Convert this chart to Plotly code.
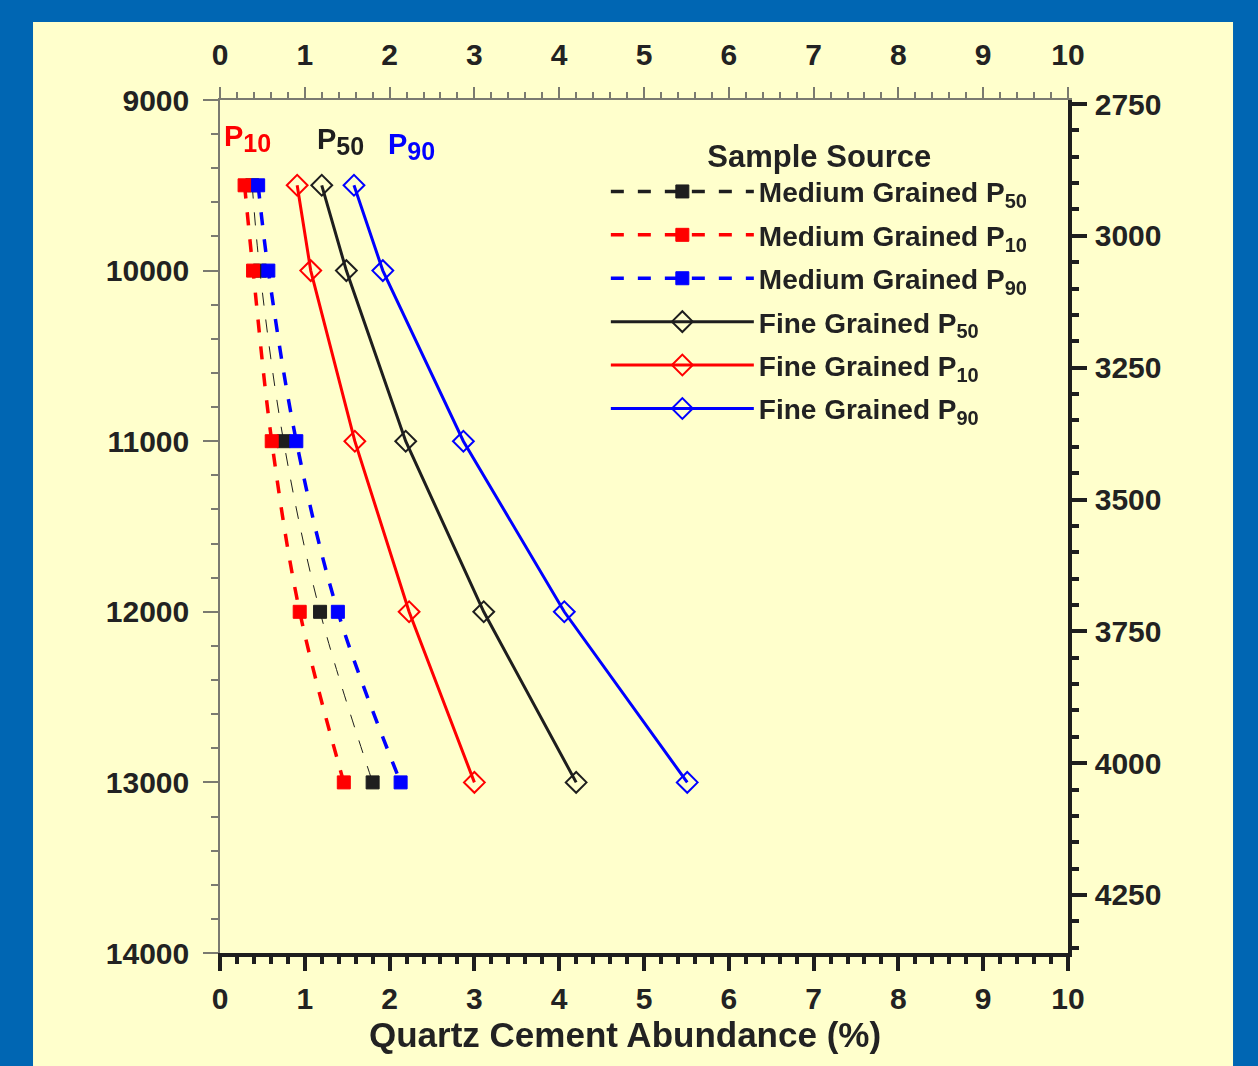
import plotly.graph_objects as go

# ---------------- data ----------------
depth_ft = [9500, 10000, 11000, 12000, 13000]

medium_p50 = [0.38, 0.47, 0.75, 1.18, 1.80]
medium_p10 = [0.29, 0.39, 0.61, 0.94, 1.46]
medium_p90 = [0.45, 0.57, 0.90, 1.39, 2.13]

fine_p50 = [1.20, 1.49, 2.19, 3.11, 4.20]
fine_p10 = [0.91, 1.07, 1.59, 2.23, 3.00]
fine_p90 = [1.58, 1.92, 2.87, 4.06, 5.51]

x_ticks = list(range(0, 11))
depth_ticks_ft = [9000, 10000, 11000, 12000, 13000, 14000]
depth_ticks_m = [2750, 3000, 3250, 3500, 3750, 4000, 4250]
depth_range_ft = [14000, 9000]
depth_range_m = [4360, 2742.4]   # metres scale as printed on the right-hand axis
FT_TO_M = 0.3048

RED = "#ff0000"
BLUE = "#0000ff"
BLACK = "#1e1e1e"
GRAY = "#7a7a70"
TXT = "#222222"
FONT = "Liberation Sans, Arial, sans-serif"

fig = go.Figure()

def sub(name, p):
    return f"<b>{name} P<sub><span style='font-size:20px'>{p}</span></sub></b>"

dash = "13px,14px"
med = [
    ("Medium Grained", "50", medium_p50, BLACK, 1),
    ("Medium Grained", "10", medium_p10, RED, 3.5),
    ("Medium Grained", "90", medium_p90, BLUE, 3.5),
]
for i, (nm, p, vals, col, w) in enumerate(med):
    fig.add_trace(go.Scatter(
        x=vals, y=depth_ft, name=sub(nm, p), mode="lines+markers",
        legendgroup=f"g{i}", showlegend=(w > 2),
        line=dict(color=col, width=w, dash=dash, shape="spline", smoothing=1),
        marker=dict(symbol="square", size=13, color=col, line=dict(color=col, width=1)),
    ))
    if w <= 2:
        # legend entry drawn with the heavier dash used in the key
        fig.add_trace(go.Scatter(
            x=[None], y=[None], name=sub(nm, p), mode="lines+markers",
            legendgroup=f"g{i}", showlegend=True,
            line=dict(color=col, width=3.5, dash=dash),
            marker=dict(symbol="square", size=13, color=col, line=dict(color=col, width=1)),
        ))

fine = [
    ("Fine Grained", "50", fine_p50, BLACK),
    ("Fine Grained", "10", fine_p10, RED),
    ("Fine Grained", "90", fine_p90, BLUE),
]
for i, (nm, p, vals, col) in enumerate(fine):
    fig.add_trace(go.Scatter(
        x=vals, y=depth_ft, name=sub(nm, p), mode="lines+markers",
        legendgroup=f"g{i+3}",
        line=dict(color=col, width=3),
        marker=dict(symbol="diamond-open", size=16, color=col, line=dict(color=col, width=2)),
    ))

# invisible companions so the secondary (top / metres) axes get drawn
fig.add_trace(go.Scatter(x=fine_p50, y=depth_ft, xaxis="x2", yaxis="y",
                         mode="markers", opacity=0, showlegend=False, hoverinfo="skip"))
fig.add_trace(go.Scatter(x=fine_p50, y=[d * FT_TO_M for d in depth_ft], xaxis="x", yaxis="y2",
                         mode="markers", opacity=0, showlegend=False, hoverinfo="skip"))

# ---------------- axes ----------------
tickfont = dict(family=FONT, size=30, color=TXT, weight="bold")

fig.update_layout(
    xaxis=dict(
        range=[0, 10], tickvals=x_ticks, ticktext=[str(v) for v in x_ticks], side="bottom",
        showline=True, linecolor=BLACK, linewidth=3.5,
        ticks="outside", ticklen=14, tickwidth=3.5, tickcolor=BLACK,
        minor=dict(dtick=0.2, ticks="outside", ticklen=7, tickwidth=3.5, tickcolor=BLACK),
        showgrid=False, zeroline=False, tickfont=tickfont, ticklabelstandoff=2,
    ),
    xaxis2=dict(
        range=[0, 10], tickvals=x_ticks, ticktext=[str(v) for v in x_ticks],
        side="top", overlaying="x", anchor="y",
        showline=True, linecolor=GRAY, linewidth=1.5,
        ticks="outside", ticklen=11, tickwidth=1.5, tickcolor=GRAY,
        minor=dict(dtick=0.2, ticks="outside", ticklen=6, tickwidth=1.5, tickcolor=GRAY),
        showgrid=False, zeroline=False, tickfont=tickfont, ticklabelstandoff=10,
    ),
    yaxis=dict(
        range=depth_range_ft, tickvals=depth_ticks_ft, ticktext=[str(v) for v in depth_ticks_ft],
        showline=True, linecolor=GRAY, linewidth=1.5,
        ticks="outside", ticklen=15, tickwidth=1.5, tickcolor=GRAY,
        minor=dict(dtick=200, ticks="outside", ticklen=7, tickwidth=1.5, tickcolor=GRAY),
        showgrid=False, zeroline=False, tickfont=tickfont, ticklabelstandoff=8,
    ),
    yaxis2=dict(
        range=depth_range_m,
        tickvals=depth_ticks_m, ticktext=[str(v) for v in depth_ticks_m],
        overlaying="y", side="right", anchor="x",
        showline=True, linecolor=BLACK, linewidth=3.5,
        ticks="outside", ticklen=15, tickwidth=3.5, tickcolor=BLACK,
        minor=dict(dtick=50, ticks="outside", ticklen=7, tickwidth=3.5, tickcolor=BLACK),
        showgrid=False, zeroline=False, tickfont=tickfont, ticklabelstandoff=2,
    ),
)

# x-axis title (slightly left of centre, as in the original)
fig.add_annotation(x=0.4776, y=-0.0961, xref="paper", yref="paper",
                   text="<b>Quartz Cement Abundance (%)</b>", showarrow=False,
                   xanchor="center", yanchor="middle",
                   font=dict(family=FONT, size=35, color=TXT))

# ---------------- annotations ----------------
labels = [("10", 0.02, 9225, RED),
          ("50", 1.12, 9245, BLACK),
          ("90", 1.96, 9275, BLUE)]
for p, x, y, col in labels:
    fig.add_annotation(x=x, y=y, xref="x", yref="y",
                       text=f"<b>P<sub><span style='font-size:25px'>{p}</span></sub></b>",
                       showarrow=False, xanchor="left", yanchor="middle",
                       font=dict(family=FONT, size=29, color=col))

# ---------------- background panel ----------------
fig.add_shape(type="rect", xref="paper", yref="paper", layer="below",
              x0=-0.2205, x1=1.1946, y0=-0.2, y1=1.0914,
              fillcolor="#ffffcc", line=dict(width=0))

fig.update_layout(
    width=1258, height=1066,
    margin=dict(l=220, r=190, t=100, b=113),
    paper_bgcolor="#0066b3", plot_bgcolor="rgba(0,0,0,0)",
    font=dict(family=FONT, color=TXT),
    showlegend=True,
    legend=dict(
        x=0.455, y=0.969, xanchor="left", yanchor="top",
        bgcolor="rgba(0,0,0,0)", itemwidth=143, tracegroupgap=4,
        font=dict(family=FONT, size=28, color=TXT),
        title=dict(text="<b>Sample Source</b>", side="top center",
                   font=dict(family=FONT, size=31, color=TXT)),
        traceorder="grouped",
    ),
)

fig.write_html("out.html", config={"displayModeBar": False},
               post_script="document.body.style.margin='0';document.body.style.padding='0';"
                           "document.body.style.overflow='hidden';")
